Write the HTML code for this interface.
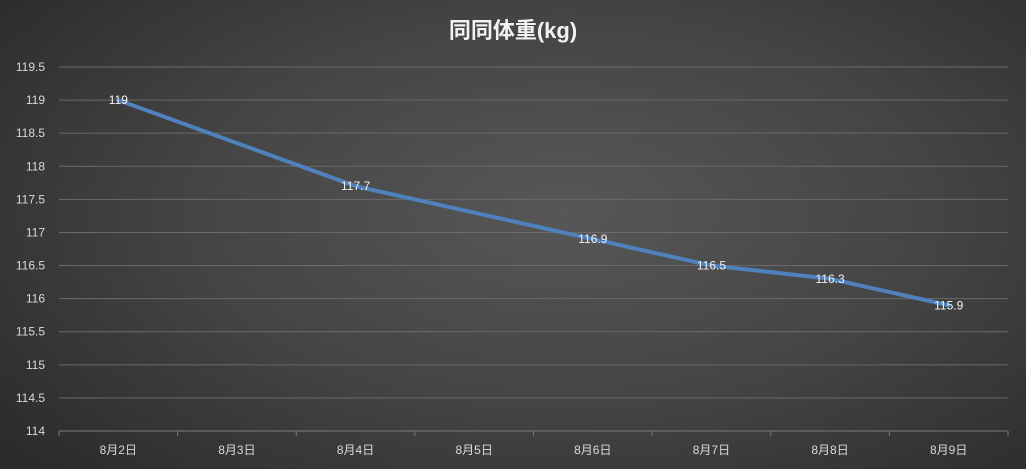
<!DOCTYPE html>
<html><head><meta charset="utf-8"><style>
html,body{margin:0;padding:0;width:1026px;height:469px;overflow:hidden}
body{background:radial-gradient(ellipse 70% 80% at 55% 45%,#575757 0%,#454545 50%,#2b2b2b 100%);font-family:"Liberation Sans","Noto Sans CJK SC",sans-serif}
</style></head><body>
<svg id="chart" width="1026" height="469" xmlns="http://www.w3.org/2000/svg">
<text x="513" y="38" text-anchor="middle" fill="#f2f2f2" font-size="22" font-weight="bold" font-family="Liberation Sans, Noto Sans CJK SC, sans-serif">同同体重(kg)</text>
<g id="grid"></g><g id="axes"></g><g id="series"></g>
</svg>
<script>
const categories=["8月2日","8月3日","8月4日","8月5日","8月6日","8月7日","8月8日","8月9日"];
const weights=[119,null,117.7,null,116.9,116.5,116.3,115.9];
const yTicks=[114,114.5,115,115.5,116,116.5,117,117.5,118,118.5,119,119.5];
const L=59,R=1008,T=67,B=431,yMin=114,yMax=119.5;
const bw=(R-L)/categories.length;
const x=i=>L+bw*(i+0.5);
const y=v=>B-(v-yMin)/(yMax-yMin)*(B-T);
const NS="http://www.w3.org/2000/svg";
function mk(t,a,p){const e=document.createElementNS(NS,t);for(const k in a)e.setAttribute(k,a[k]);p.appendChild(e);return e;}
const grid=document.getElementById('grid'),axes=document.getElementById('axes'),ser=document.getElementById('series');
yTicks.forEach(v=>{
 if(v!==yMin){const g=mk('line',{x1:L,x2:R,y1:y(v),y2:y(v),stroke:'#6a6a6a','stroke-width':1},grid);
 
 }
 const t=mk('text',{x:45,y:y(v)+4,'text-anchor':'end',fill:'#d9d9d9','font-size':12},axes);t.textContent=v;
 
 
});
const ax=mk('line',{x1:L,x2:R,y1:B,y2:B,stroke:'#7a7a7a','stroke-width':1},axes);


for(let i=0;i<=categories.length;i++){const tk=mk('line',{x1:L+bw*i,x2:L+bw*i,y1:B,y2:B+5,stroke:'#7a7a7a'},axes);
 
 }
categories.forEach((c,i)=>{const t=mk('text',{x:x(i),y:454,'text-anchor':'middle',fill:'#d9d9d9','font-size':12},axes);t.textContent=c;
 
 });
const pts=weights.map((v,i)=>v==null?null:[x(i),y(v)]).filter(p=>p);
const pl=mk('polyline',{points:pts.map(p=>p.join(',')).join(' '),fill:'none',stroke:'#4f81bd','stroke-width':4,'stroke-linejoin':'round','stroke-linecap':'round'},ser);


weights.forEach((v,i)=>{if(v==null)return;const t=mk('text',{x:x(i),y:y(v)+4,'text-anchor':'middle',fill:'#f2f2f2','font-size':12},ser);t.textContent=v;
 
 });
</script>
</body></html>
